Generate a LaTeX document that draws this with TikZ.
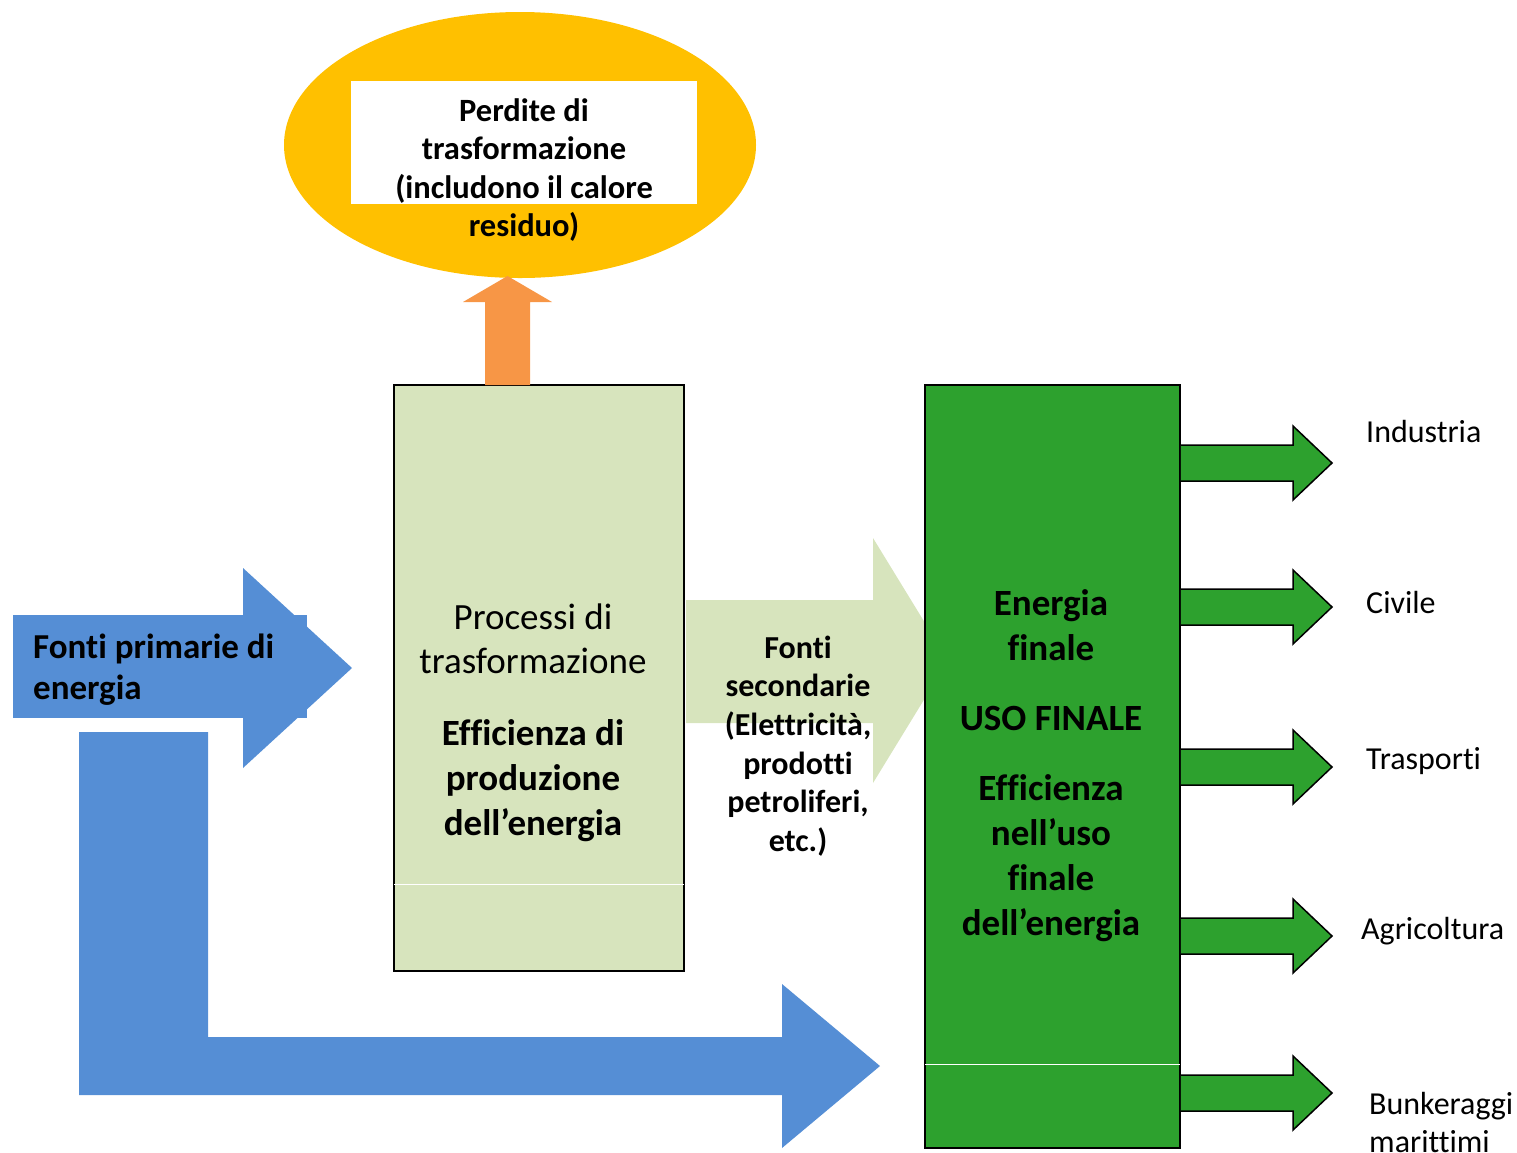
\documentclass[tikz,border=0pt]{standalone}
\usepackage{fontspec}
\setmainfont{Carlito}[Ligatures={NoCommon}]
\usetikzlibrary{shapes.geometric}
\definecolor{cblue}{HTML}{558ED5}
\definecolor{corange}{HTML}{F79646}
\definecolor{cyellow}{HTML}{FFC000}
\definecolor{clight}{HTML}{D7E4BD}
\definecolor{cgreen}{HTML}{2DA12E}
\tikzset{
  txt/.style={inner sep=0pt, align=center, text=black},
  boldbig/.style={txt, font=\fontsize{37}{45}\selectfont\bfseries},
  lab/.style={inner sep=0pt, anchor=west, align=left, font=\fontsize{32}{38}\selectfont},
  garrow/.style={fill=cgreen, draw=black, line width=1.5pt, line join=miter},
}
\begin{document}
\begin{tikzpicture}[x=1pt,y=-1pt]
\useasboundingbox (0,0) rectangle (1517,1152);
% ---- loss ellipse
\node[ellipse, fill=cyellow, minimum width=472pt, minimum height=266pt, inner sep=0pt] (loss) at (520,145) {};
\node[fill=white, minimum width=346pt, minimum height=123pt, inner sep=0pt] (lossbox) at (524,142.5) {};
\node[txt, font=\fontsize{32.5}{38.3}\selectfont\bfseries] (losstxt) at (524,170) {Perdite di\\trasformazione\\(includono il calore\\residuo)};
% ---- secondary arrow (behind final box)
\fill[clight] (686,600) -- (873,600) -- (873,538) -- (948,660.5) -- (873,783) -- (873,723) -- (686,723) -- cycle;
% ---- process box
\node[draw=black, line width=1.5pt, fill=clight, minimum width=290pt, minimum height=586pt, inner sep=0pt] (proc) at (539,678) {};
\draw[white, line width=1pt] ([xshift=1pt]proc.west |- 0,884) -- ([xshift=-1pt]proc.east |- 0,884);
\node[txt, font=\fontsize{37}{44}\selectfont] (proctxt) at (533,639) {Processi di\\trasformazione};
\node[boldbig] (efftxt) at (533,781) {Efficienza di\\produzione\\dell’energia};
% ---- orange arrow
\fill[corange] (485,385) -- (485,302) -- (463,302) -- (507.5,276) -- (552,302) -- (530,302) -- (530,385) -- cycle;
% ---- final box
\node[draw=black, line width=1.5pt, fill=cgreen, minimum width=255pt, minimum height=763pt, inner sep=0pt] (final) at (1052.5,766.5) {};
\draw[white, line width=1pt] ([xshift=1pt]final.west |- 0,1064) -- ([xshift=-1pt]final.east |- 0,1064);
\node[boldbig] (ftxt1) at (1051,625) {Energia\\finale};
\node[boldbig] (ftxt2) at (1051,718) {USO FINALE};
\node[boldbig] (ftxt3) at (1051,858) {Efficienza\\nell’uso\\finale\\dell’energia};
% ---- secondary text
\node[txt, font=\fontsize{32}{38.6}\selectfont\bfseries] (sectxt) at (798,746) {Fonti\\secondarie\\(Elettricità,\\prodotti\\petroliferi,\\etc.)};
% ---- blue arrows
\fill[cblue] (13,615) rectangle (307,718);
\fill[cblue] (243,568) -- (352,668) -- (243,768) -- cycle;
\node[txt, anchor=west, align=left, font=\fontsize{35}{41}\selectfont\bfseries] (prim) at (33,670) {Fonti primarie di\\energia};
\fill[cblue] (79,732) -- (208,732) -- (208,1037) -- (782,1037) -- (782,984) -- (880,1066) -- (782,1148) -- (782,1095) -- (79,1095) -- cycle;
% ---- output arrows
\foreach \c/\nm in {463/a1,607/a2,767/a3,936/a4,1093/a5}{
  \coordinate (\nm) at (1332,\c);
  \draw[garrow] (final.east |- 0,\c-18) -- (1293,\c-18) -- (1293,\c-37) -- (\nm) -- (1293,\c+37) -- (1293,\c+18) -- (final.east |- 0,\c+18);
}
\node[lab] (l1) at (1366,431) {Industria};
\node[lab] (l2) at (1366,602) {Civile};
\node[lab] (l3) at (1366,761) {Trasporti};
\node[lab] (l4) at (1361,931) {Agricoltura};
\node[lab] (l5) at (1369,1122) {Bunkeraggi\\marittimi};
\end{tikzpicture}
\end{document}
